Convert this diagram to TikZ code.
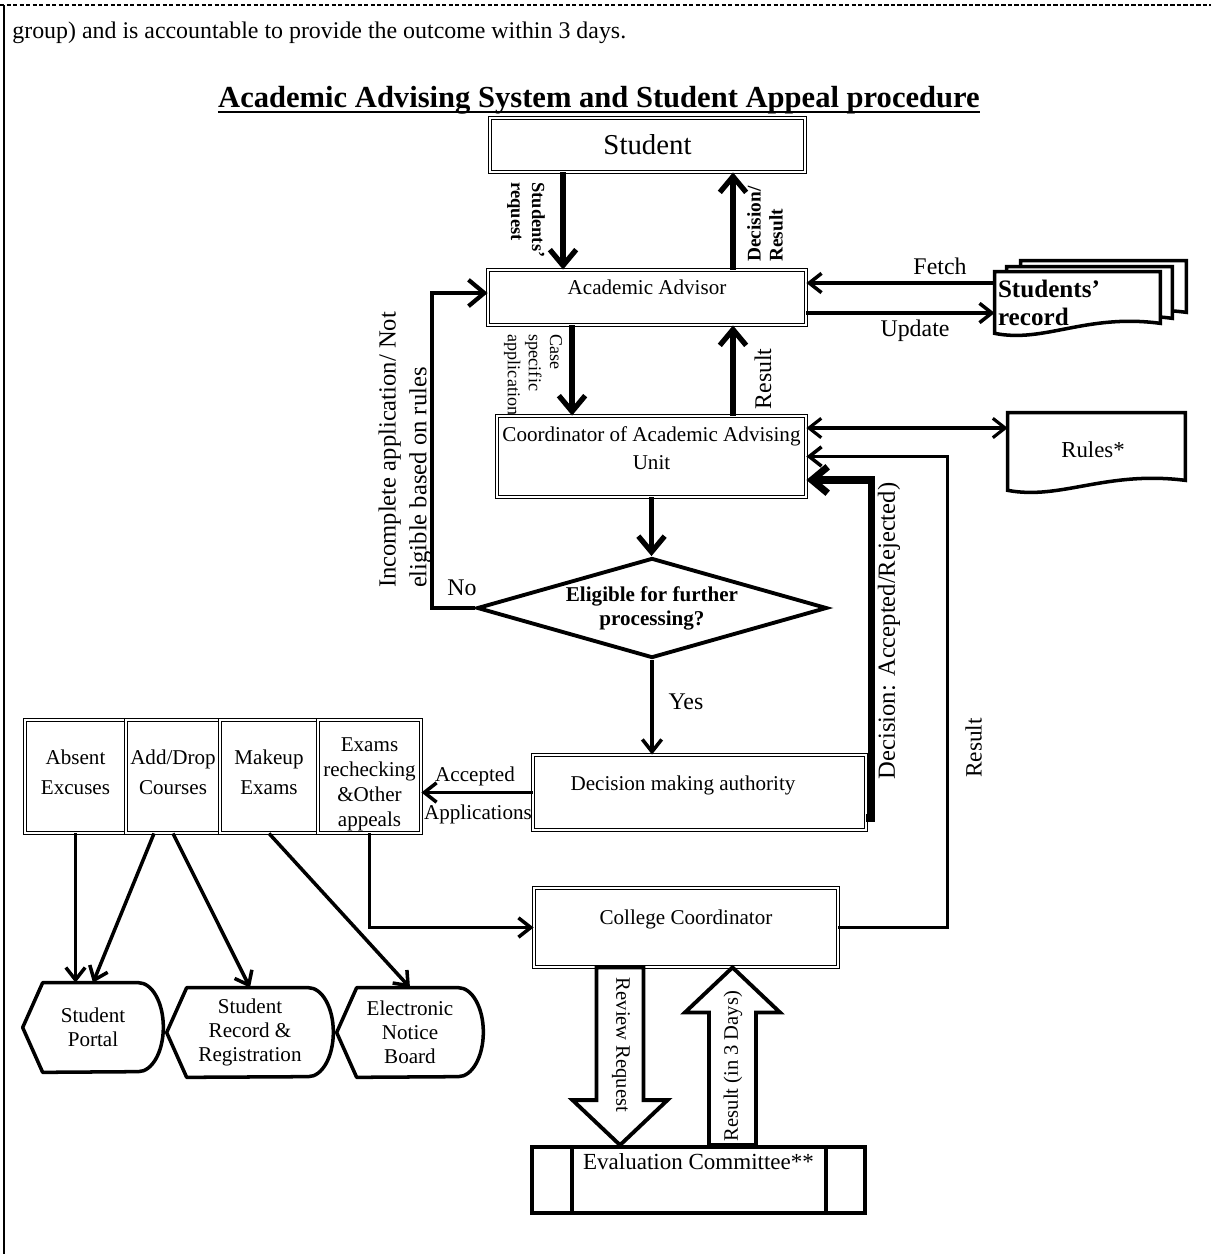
\documentclass[tikz,border=0pt]{standalone}
\usepackage{fontspec}
\setmainfont{Liberation Serif}
\usepackage{tikz}
\usetikzlibrary{arrows.meta}
\usetikzlibrary{shapes.geometric}
\usetikzlibrary{calc}
\newcommand{\fsz}[2]{\fontsize{#1}{#2}\selectfont}
\tikzstyle{dbox}=[draw,double,line width=0.5pt,double distance=1.6pt,inner sep=0pt,fill=white]
\tikzstyle{boxtext}=[anchor=north,inner sep=0pt,align=center,font=\fsz{12}{16}]
\tikzstyle{lbl}=[inner sep=0pt,align=left,font=\fsz{14}{17}]
\tikzstyle{disp}=[minimum height=1.78cm,inner sep=0pt,align=center,font=\fsz{12}{13.6}]
\tikzstyle{displine}=[line width=2pt,line join=round]
\tikzstyle{docline}=[draw,line width=2pt,fill=white]
\tikzstyle{flow}=[line width=3pt,-{Straight Barb[length=9pt,width=15pt]}]
\tikzstyle{mflow}=[line width=2pt,-{Straight Barb[length=7pt,width=11pt]}]
\tikzstyle{heavy}=[line width=4pt,-{Straight Barb[length=9pt,width=15pt]}]
\tikzstyle{block}=[draw,line width=2.2pt,fill=white]
\newcommand{\docshape}[3]{%
  \draw[docline] ($(#1.north west)+(#2,#3)$) -- ($(#1.north east)+(#2,#3)$)
    -- ($(#1.south east)+(#2,#3)+(0pt,0.2cm)$)
    .. controls ($(#1.south west)!0.55!(#1.south east)+(#2,#3)+(0pt,0.4cm)$)
    and ($(#1.south west)!0.3!(#1.south east)+(#2,#3)+(0pt,-0.2cm)$)
    .. ($(#1.south west)+(#2,#3)$) -- cycle;}
\newcommand{\dispshape}[1]{%
  \draw[displine] (#1.west) -- ([xshift=0.4cm]#1.north west) -- ([xshift=-0.5cm]#1.north east)
    arc[start angle=90,end angle=-90,x radius=0.5cm,y radius=0.89cm]
    -- ([xshift=0.4cm]#1.south west) -- cycle;}
\begin{document}
\begin{tikzpicture}[x=0.02cm,y=-0.02cm]
\useasboundingbox (0,0) rectangle (1211,1254);
\draw[line width=0.6pt,dash pattern=on 2.5pt off 1.2pt] (0,5) -- (1211,5);
\draw[line width=1.6pt] (4,5) -- (4,1254);
\node[anchor=base west,inner sep=0pt,font=\fsz{13.6}{16}] (intro) at (12,38) {group) and is accountable to provide the outcome within 3 days.};
\node[anchor=base,inner sep=0pt,font=\bfseries\fsz{17.4}{20}] (title) at (599,107) {Academic Advising System and Student Appeal procedure};
\draw[line width=1.3pt] ([yshift=-3pt]title.base west) -- ([yshift=-3pt]title.base east);

% main column
\node[dbox,minimum width=6.3cm,minimum height=1.08cm,font=\fsz{16.4}{19}] (student) at (647.5,145) {Student};
\node[dbox,minimum width=6.36cm,minimum height=1.1cm] (advisor) at (647,297.5) {};
\node[boxtext] (advisortext) at ([yshift=-0.2cm]advisor.north) {Academic Advisor};
\node[dbox,minimum width=6.18cm,minimum height=1.62cm] (coord) at (651.5,456.5) {};
\node[boxtext] (coordtext) at ([yshift=-0.22cm]coord.north) {Coordinator of Academic Advising\\Unit};
\node[draw,diamond,aspect=3.5,line width=2.2pt,minimum width=7cm,minimum height=2cm,inner sep=0pt,align=center,font=\bfseries\fsz{12}{13.6}] (elig) at (652,608) {Eligible for further\\processing?};
\node[dbox,minimum width=6.66cm,minimum height=1.5cm] (dma) at (699.5,792.5) {};
\node[boxtext] (dmatext) at ([xshift=-0.33cm,yshift=-0.42cm]dma.north) {Decision making authority};
\node[dbox,minimum width=6.08cm,minimum height=1.58cm] (college) at (686,927.5) {};
\node[boxtext] (collegetext) at ([yshift=-0.44cm]college.north) {College Coordinator};
\node[draw,line width=2.2pt,minimum width=6.66cm,minimum height=1.32cm,inner sep=0pt] (eval) at (698.5,1180) {};
\draw[line width=2.2pt] ([xshift=0.84cm]eval.north west) -- ([xshift=0.84cm]eval.south west);
\draw[line width=2.2pt] ([xshift=-0.82cm]eval.north east) -- ([xshift=-0.82cm]eval.south east);
\node[boxtext,font=\fsz{13.1}{15}] (evaltext) at ([yshift=-0.16cm]eval.north) {Evaluation Committee**};

% application types
\node[dbox,minimum width=2.02cm,minimum height=2.26cm] (absent) at (75.5,776.5) {};
\node[dbox,minimum width=1.88cm,minimum height=2.26cm] (adddrop) at (173,776.5) {};
\node[dbox,minimum width=1.96cm,minimum height=2.26cm] (makeup) at (269,776.5) {};
\node[dbox,minimum width=2.06cm,minimum height=2.26cm] (exams) at (369.5,776.5) {};
\node[boxtext,font=\fsz{12}{17}] (absenttext) at ([yshift=-0.6cm]absent.north) {Absent\\Excuses};
\node[boxtext,font=\fsz{12}{17}] (adddroptext) at ([yshift=-0.6cm]adddrop.north) {Add/Drop\\Courses};
\node[boxtext,font=\fsz{12}{17}] (makeuptext) at ([yshift=-0.6cm]makeup.north) {Makeup\\Exams};
\node[boxtext,font=\fsz{12}{14.2}] (examstext) at ([yshift=-0.35cm]exams.north) {Exams\\rechecking\\\&Other\\appeals};

% outputs
\node[disp,minimum width=2.8cm] (portal) at (93,1027.5) {Student\\Portal};
\node[disp,minimum width=3.32cm] (srr) at (250,1032.5) {Student\\Record \&\\Registration};
\node[disp,minimum width=2.92cm] (enb) at (410,1032.5) {Electronic\\Notice\\Board};
\dispshape{portal}
\dispshape{srr}
\dispshape{enb}

% documents
\node[minimum width=3.3cm,minimum height=1.22cm,inner sep=0pt] (record) at (1077.5,302.5) {};
\docshape{record}{0.52cm}{0.22cm}
\docshape{record}{0.24cm}{0.1cm}
\docshape{record}{0pt}{0pt}
\node[anchor=west,inner sep=0pt,align=left,font=\bfseries\fsz{14.3}{16}] (recordtext) at ([xshift=0.06cm]record.west) {Students’\\record};
\node[minimum width=3.54cm,minimum height=1.54cm,inner sep=0pt] (rules) at (1096.5,451.5) {};
\docshape{rules}{0pt}{0pt}
\node[inner sep=0pt,font=\fsz{13}{15}] (rulestext) at ([xshift=-0.07cm,yshift=0.03cm]rules.center) {Rules*};

% connectors
\coordinate (reqtop) at ([xshift=-1.69cm]student.south);
\draw[flow] (reqtop) -- (reqtop |- advisor.north);
\coordinate (decbot) at ([xshift=1.72cm]advisor.north);
\draw[flow] (decbot) -- (decbot |- student.south);
\coordinate (fetchpt) at ([yshift=0.39cm]record.west);
\draw[mflow] (fetchpt) -- (fetchpt -| advisor.east);
\coordinate (updpt) at ([yshift=-0.31cm]advisor.east);
\draw[mflow] (updpt) -- (updpt -| record.west);
\coordinate (casetop) at ([xshift=-1.5cm]advisor.south);
\draw[flow] (casetop) -- (casetop |- coord.north);
\coordinate (resbot) at ([xshift=1.63cm]coord.north);
\draw[flow] (resbot) -- (resbot |- advisor.south);
\coordinate (rulept) at ([yshift=0.57cm]coord.east);
\draw[line width=1.8pt,{Straight Barb[length=7pt,width=11pt]}-{Straight Barb[length=7pt,width=11pt]}] (rulept) -- (rulept -| rules.west);
\draw[flow] (coord.south) -- (coord.south |- elig.north);
\coordinate (nocorner) at ([xshift=-0.86cm]elig.west);
\coordinate (noend) at ([yshift=0.09cm]advisor.west);
\draw[flow,line width=2.4pt] (elig.west) -- (nocorner) |- (noend);
\draw[mflow] (elig.south) -- (elig.south |- dma.north);
\draw[mflow] (dma.west) -- (dma.west -| exams.east);
\coordinate (decstart) at ([yshift=-0.51cm]dma.east);
\coordinate (decend) at ([yshift=-0.47cm]coord.east);
\draw[heavy] (decstart) -- ++(0.1cm,0pt) |- (decend);
\draw[mflow] (college.east) -- ++(2.18cm,0pt) |- (coord.east);
\draw[mflow] (exams.south) |- (college.west);
\draw[mflow] (absent.south) -- (absent.south |- portal.north);
\draw[mflow] ([xshift=-0.38cm]adddrop.south) -- (portal.north);
\draw[mflow] (adddrop.south) -- (srr.north);
\draw[mflow] (makeup.south) -- (enb.north);

% review arrows
\coordinate (rvtop) at ([xshift=-1.32cm]college.south);
\coordinate (rvtip) at (rvtop |- eval.north);
\draw[block] ([xshift=-0.47cm]rvtop) -- ([xshift=-0.47cm,yshift=0.9cm]rvtip) -- ([xshift=-0.95cm,yshift=0.9cm]rvtip) -- (rvtip) -- ([xshift=0.95cm,yshift=0.9cm]rvtip) -- ([xshift=0.47cm,yshift=0.9cm]rvtip) -- ([xshift=0.47cm]rvtop) -- cycle;
\coordinate (rstip) at ([xshift=0.93cm]college.south);
\coordinate (rsbase) at (rstip |- eval.north);
\draw[block] ([xshift=-0.47cm]rsbase) -- ([xshift=-0.47cm,yshift=-0.9cm]rstip) -- ([xshift=-0.95cm,yshift=-0.9cm]rstip) -- (rstip) -- ([xshift=0.95cm,yshift=-0.9cm]rstip) -- ([xshift=0.47cm,yshift=-0.9cm]rstip) -- ([xshift=0.47cm]rsbase) -- cycle;

% labels
\node[lbl,rotate=-90,font=\bfseries\fsz{10.5}{12}] (reqlbl) at (526,220) {Students’\\request};
\node[lbl,rotate=90,font=\bfseries\fsz{11}{12.5}] (declbl) at (765,224) {Decision/\\Result};
\node[lbl,font=\fsz{13.6}{16}] (fetchlbl) at (940,266) {Fetch};
\node[lbl,font=\fsz{13.6}{16}] (updlbl) at (915,331) {Update};
\node[lbl,rotate=-90,font=\fsz{10.3}{12}] (caselbl) at (533,375) {Case\\specific\\application};
\node[lbl,rotate=90,font=\fsz{13.6}{16}] (reslbl) at (763,379) {Result};
\node[lbl,rotate=90,font=\fsz{14}{17.5}] (nolbl) at (405,450) {Incomplete application/ Not\\eligible based on rules};
\node[lbl,font=\fsz{13.6}{16}] (no) at (462,588) {No};
\node[lbl,font=\fsz{13.6}{16}] (yes) at (686,702) {Yes};
\node[lbl,rotate=90,font=\fsz{14}{17}] (acclbl) at (889,631) {Decision: Accepted/Rejected)};
\node[lbl,rotate=90,font=\fsz{13.3}{16}] (res2lbl) at (973.5,748) {Result};
\node[lbl,font=\fsz{12}{14}] (acc) at (475,776) {Accepted};
\node[lbl,font=\fsz{12}{14}] (app) at (478,814) {Applications};
\node[lbl,rotate=-90,font=\fsz{11.7}{14}] (revlbl) at (621,1045) {Review Request};
\node[lbl,rotate=90,font=\fsz{11.7}{14}] (res3lbl) at (733,1066) {Result (in 3 Days)};
\end{tikzpicture}
\end{document}
